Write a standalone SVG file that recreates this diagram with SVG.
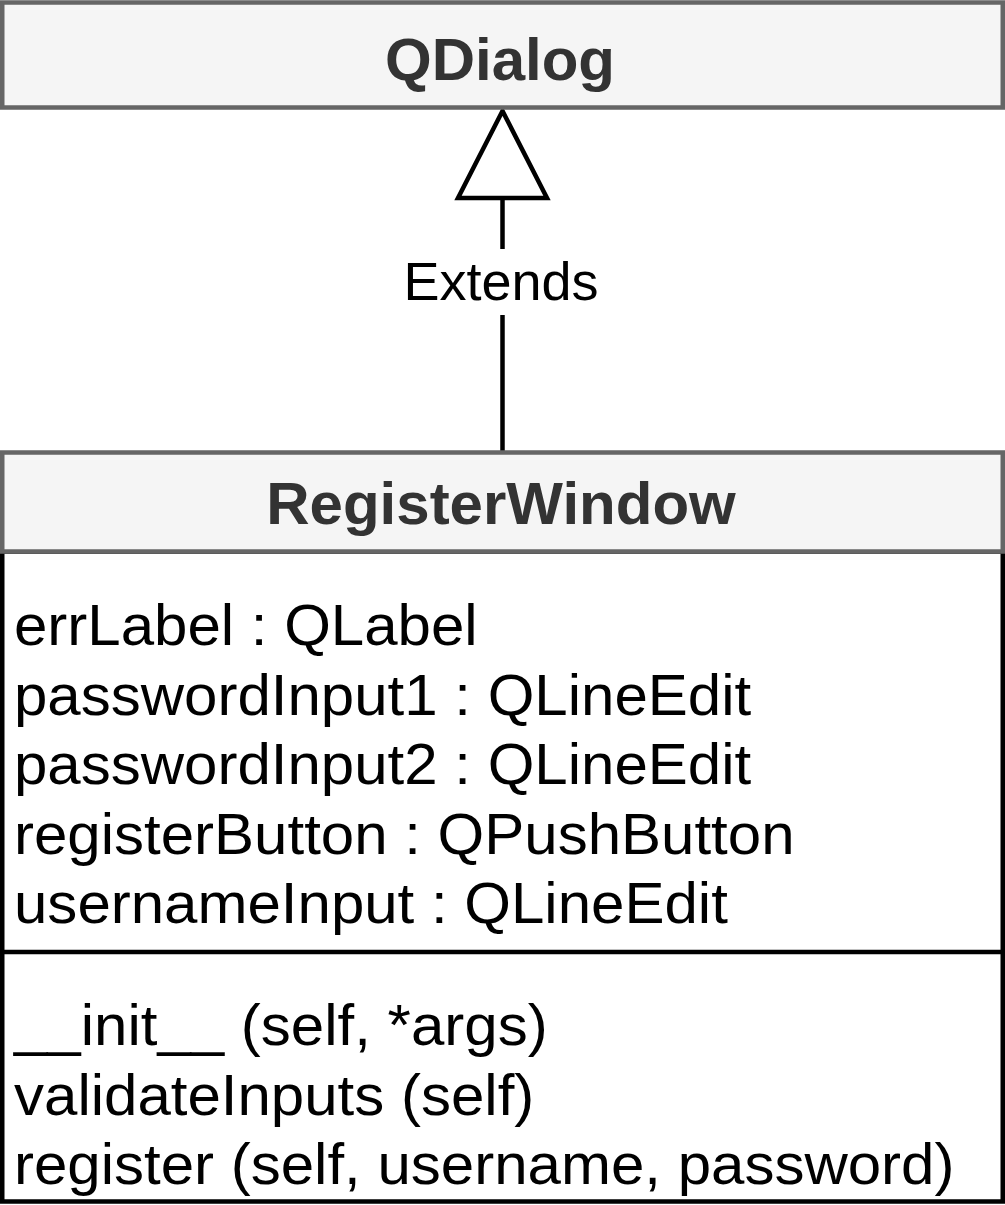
<svg xmlns="http://www.w3.org/2000/svg" width="1005" height="1205" viewBox="0 0 1005 1205">
<style>
.hdr{fill:#f5f5f5;stroke:#666666;stroke-width:4.5}
.body{fill:#ffffff;stroke:#000000;stroke-width:4.5}
.title{font-family:"Liberation Sans",Arial,sans-serif;font-weight:bold;font-size:60px;fill:#333333;text-anchor:middle}
.txt{font-family:"Liberation Sans",Arial,sans-serif;font-size:57px;fill:#000000}
.lbl{font-family:"Liberation Sans",Arial,sans-serif;font-size:54px;fill:#000000;text-anchor:middle}
.edge{stroke:#000000;stroke-width:4.5;fill:none}
</style>
<rect width="1005" height="1205" fill="#ffffff"/>
<g id="connectors">
<line class="edge" x1="502.5" y1="452" x2="502.5" y2="315"/>
<line class="edge" x1="502.5" y1="249" x2="502.5" y2="198"/>
<polygon points="502.5,111 458,198 547,198" fill="#ffffff" stroke="#000000" stroke-width="4.5"/>
<text class="lbl" x="501" y="300">Extends</text>
</g>
<g id="qdialog">
<rect class="hdr" x="2.25" y="2.5" width="1000.5" height="105"/>
<text class="title" x="500" y="80">QDialog</text>
</g>
<g id="registerwindow">
<rect class="body" x="2.25" y="551.5" width="1000.5" height="650"/>
<rect class="hdr" x="2.25" y="452.5" width="1000.5" height="99"/>
<text class="title" x="501" y="524" font-size="59">RegisterWindow</text>
<line x1="0" y1="952" x2="1005" y2="952" stroke="#000000" stroke-width="4.5"/>
<g transform="translate(14,0) scale(1.053,1)">
<text class="txt" x="0" y="645">errLabel : QLabel</text>
<text class="txt" x="0" y="715">passwordInput1 : QLineEdit</text>
<text class="txt" x="0" y="784">passwordInput2 : QLineEdit</text>
<text class="txt" x="0" y="854">registerButton : QPushButton</text>
<text class="txt" x="0" y="923">usernameInput : QLineEdit</text>
<text class="txt" x="0" y="1045">__init__ (self, *args)</text>
<text class="txt" x="0" y="1115">validateInputs (self)</text>
<text class="txt" x="0" y="1184">register (self, username, password)</text>
</g>
</g>
</svg>
